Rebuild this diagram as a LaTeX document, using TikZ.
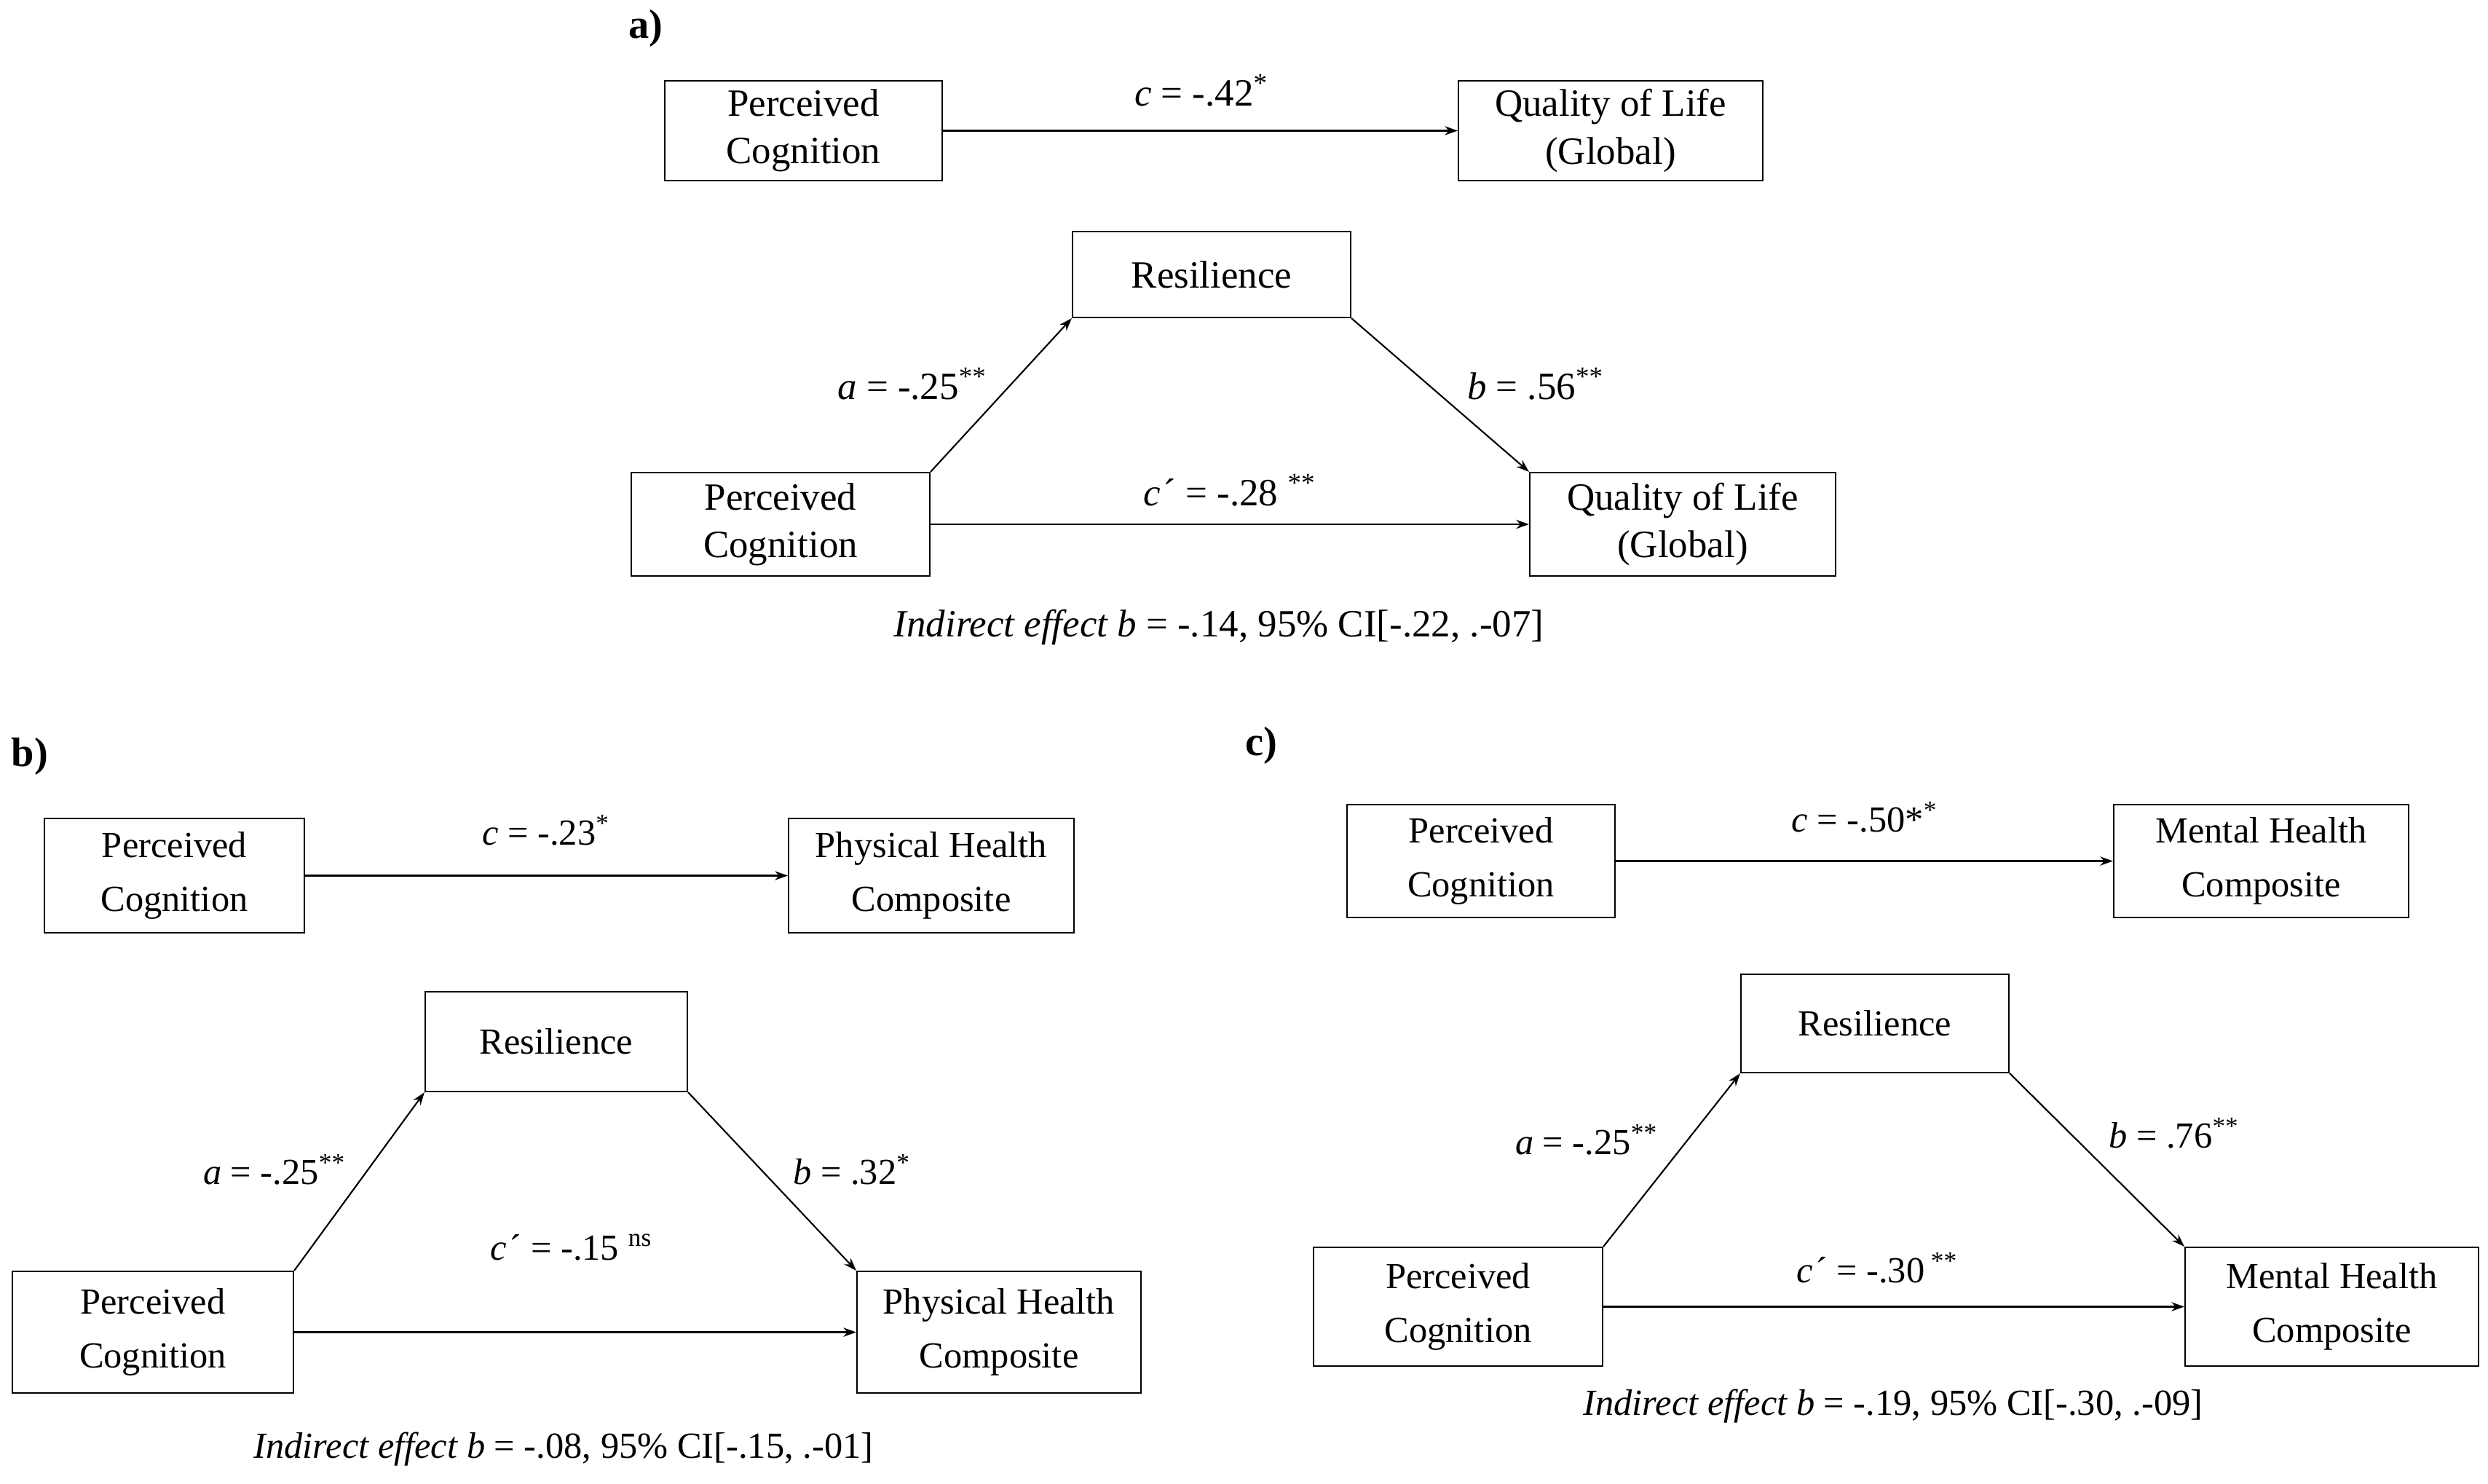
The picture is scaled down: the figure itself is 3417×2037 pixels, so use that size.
\documentclass[tikz,border=0pt]{standalone}
\usepackage{fontspec}
\setmainfont{Liberation Serif}
\usetikzlibrary{fit,arrows.meta}
\newcommand{\fa}{\fontsize{15}{18.5}\selectfont}
\newcommand{\fbc}{\fontsize{14.3}{21}\selectfont}
\tikzset{
  box/.style={draw, line width=0.6pt, inner sep=0pt},
  txt/.style={label={[align=center, inner sep=0pt]center:#1}},
  lbl/.style={inner sep=0pt},
  arr/.style={line width=0.6pt, -{Stealth[length=5pt,width=3.5pt]}},
  panel/.style={font=\fontsize{16}{19}\selectfont\bfseries, inner sep=0pt},
  pa/.style={every node/.append style={font=\fa}, every label/.append style={font=\fa}},
  pbc/.style={every node/.append style={font=\fbc}, every label/.append style={font=\fbc}}
}
\newcommand{\cpr}{\textit{c}\kern1pt´}
\begin{document}
\begin{tikzpicture}[x=0.2833pt,y=-0.2833pt]
\useasboundingbox (0,0) rectangle (3417,2037);
% ---------- panel a ----------
\begin{scope}[pa]
\node[panel] (la) at (887,39) {a)};
\node[box, fit={(913,111)(1294,248)}, txt={Perceived\\Cognition}] (a1) {};
\node[box, fit={(2003,111)(2421,248)}, txt={Quality of Life\\(Global)}] (a2) {};
\draw[arr] (a1.east) -- (a2.west);
\node[lbl] (ac) at (1650,124) {\textit{c} = -.42\textsuperscript{*}};
\node[box, fit={(1473,318)(1855,436)}, txt={Resilience}] (ar) {};
\node[box, fit={(867,649)(1277,791)}, txt={Perceived\\Cognition}] (ax) {};
\node[box, fit={(2101,649)(2521,791)}, txt={Quality of Life\\(Global)}] (ay) {};
\draw[arr] (ax.north east) -- (ar.south west);
\draw[arr] (ar.south east) -- (ay.north west);
\draw[arr] (ax.east) -- (ay.west);
\node[lbl] (aa) at (1253,527) {\textit{a} = -.25\textsuperscript{**}};
\node[lbl] (ab) at (2109,527) {\textit{b} = .56\textsuperscript{**}};
\node[lbl] (acp) at (1689,673) {\cpr\ = -.28 \textsuperscript{**}};
\node[lbl] (ai) at (1674,861) {\textit{Indirect effect b} = -.14, 95\% CI[-.22, .-07]};
\end{scope}
% ---------- panel b ----------
\begin{scope}[pbc]
\node[panel] (lb) at (41,1039) {b)};
\node[box, fit={(61,1124)(418,1281)}, txt={Perceived\\Cognition}] (b1) {};
\node[box, fit={(1083,1124)(1475,1281)}, txt={Physical Health\\Composite}] (b2) {};
\draw[arr] (b1.east) -- (b2.west);
\node[lbl] (bc) at (750,1140) {\textit{c} = -.23\textsuperscript{*}};
\node[box, fit={(584,1362)(944,1499)}, txt={Resilience}] (br) {};
\node[box, fit={(17,1746)(403,1913)}, txt={Perceived\\Cognition}] (bx) {};
\node[box, fit={(1177,1746)(1567,1913)}, txt={Physical Health\\Composite}] (by) {};
\draw[arr] (bx.north east) -- (br.south west);
\draw[arr] (br.south east) -- (by.north west);
\draw[arr] (bx.east) -- (by.west);
\node[lbl] (ba) at (377,1606) {\textit{a} = -.25\textsuperscript{**}};
\node[lbl] (bb) at (1170,1606) {\textit{b} = .32\textsuperscript{*}};
\node[lbl] (bcp) at (785,1713) {\cpr\ = -.15 \textsuperscript{ns}};
\node[lbl] (bi) at (774,1990) {\textit{Indirect effect b} = -.08, 95\% CI[-.15, .-01]};
\end{scope}
% ---------- panel c ----------
\begin{scope}[pbc]
\node[panel] (lc) at (1732,1024) {c)};
\node[box, fit={(1850,1105)(2218,1260)}, txt={Perceived\\Cognition}] (c1) {};
\node[box, fit={(2903,1105)(3308,1260)}, txt={Mental Health\\Composite}] (c2) {};
\draw[arr] (c1.east) -- (c2.west);
\node[lbl] (cc) at (2561,1122) {\textit{c} = -.50*\textsuperscript{*}};
\node[box, fit={(2391,1338)(2759,1473)}, txt={Resilience}] (cr) {};
\node[box, fit={(1804,1713)(2201,1876)}, txt={Perceived\\Cognition}] (cx) {};
\node[box, fit={(3001,1713)(3404,1876)}, txt={Mental Health\\Composite}] (cy) {};
\draw[arr] (cx.north east) -- (cr.south west);
\draw[arr] (cr.south east) -- (cy.north west);
\draw[arr] (cx.east) -- (cy.west);
\node[lbl] (ca) at (2179,1565) {\textit{a} = -.25\textsuperscript{**}};
\node[lbl] (cb) at (2986,1556) {\textit{b} = .76\textsuperscript{**}};
\node[lbl] (ccp) at (2578,1741) {\cpr\ = -.30\,\textsuperscript{**}};
\node[lbl] (ci) at (2600,1931) {\textit{Indirect effect b} = -.19, 95\% CI[-.30, .-09]};
\end{scope}
\end{tikzpicture}
\end{document}
